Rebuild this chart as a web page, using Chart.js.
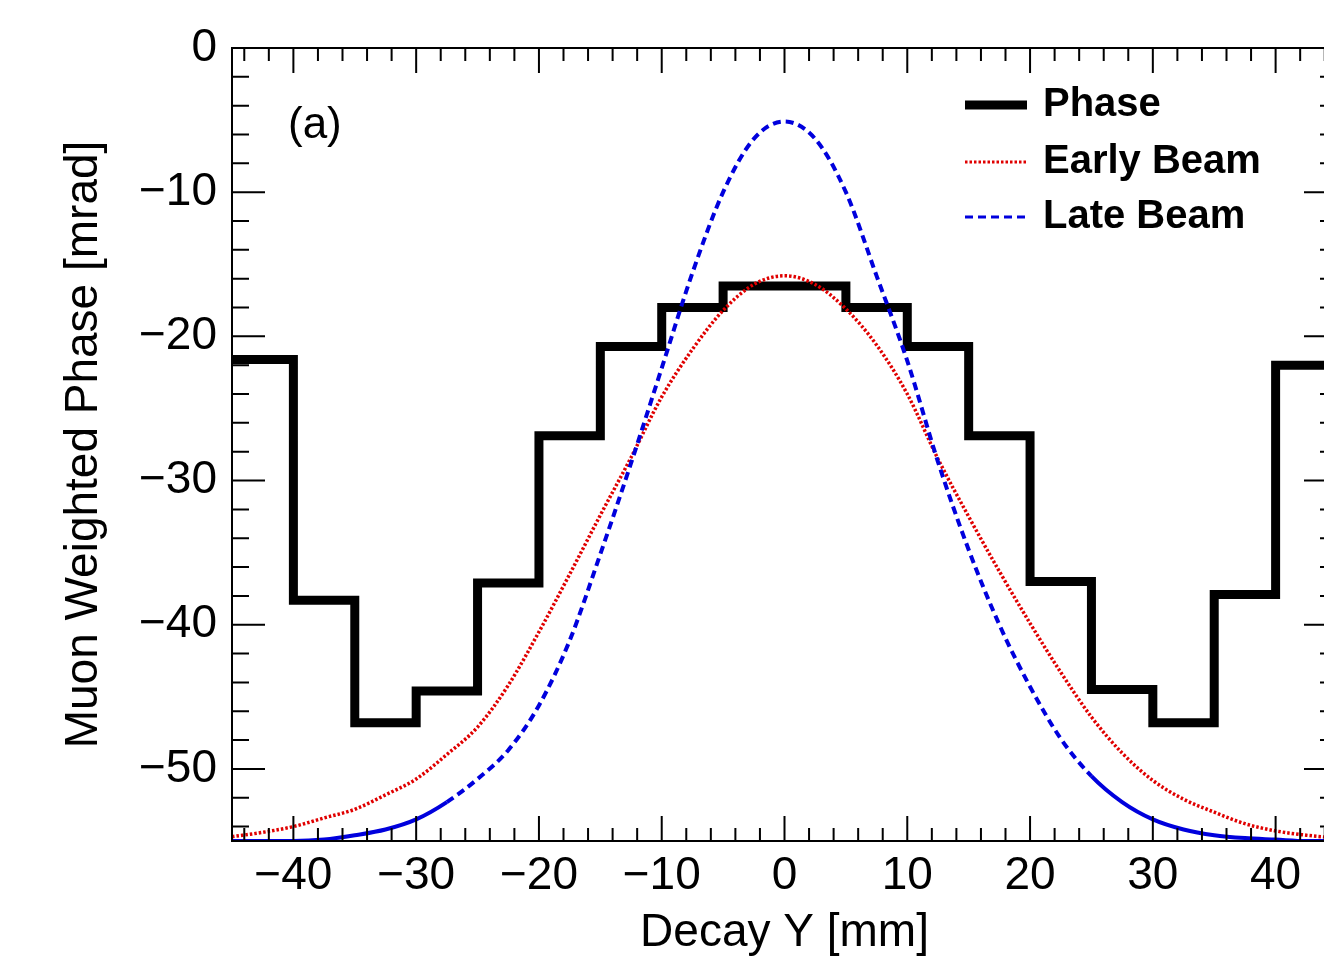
<!DOCTYPE html>
<html lang="en">
<head>
  <meta charset="UTF-8">
  <title>Muon Weighted Phase vs Decay Y</title>
  <script src="https://cdn.jsdelivr.net/npm/chart.js"></script>
  <style>
    body {
      margin: 0;
      background: #fff;
      overflow: hidden;
    }
    #wrap {
      width: 1340px;
      height: 961px;
    }
  </style>
</head>
<body>
  <div id="wrap">
    <canvas id="grafico" width="1340" height="961"></canvas>
  </div>

  <script>
    // histogram bins (edges in mm) and phase per bin (mrad)
    const binEdges = [-45, -40, -35, -30, -25, -20, -15, -10, -5, 0, 5, 10, 15, 20, 25, 30, 35, 40, 45];
    const phaseValues = [-21.6, -38.3, -46.8, -44.6, -37.1, -26.9, -20.7, -18.0, -16.5,
                         -16.5, -18.0, -20.7, -26.9, -37.0, -44.5, -46.8, -37.9, -22.0];

    // beam curves sampled along Decay Y
    const curveX = [-45, -42.5, -40, -37.5, -35, -32.5, -30, -27.5, -25, -22.5, -20, -17.5, -15, -12.5, -10, -7.5, -5, -2.5, 0,
                    2.5, 5, 7.5, 10, 12.5, 15, 17.5, 20, 22.5, 25, 27.5, 30, 32.5, 35, 37.5, 40, 42.5, 45];
    const earlyBeam = [-54.7, -54.4, -54.0, -53.4, -52.8, -51.8, -50.7, -49.0, -47.1, -44.2, -40.5, -36.5, -32.4, -28.4, -24.2, -20.9, -18.2, -16.4, -15.8,
                       -16.4, -18.1, -20.6, -24.0, -28.5, -32.5, -36.3, -39.9, -43.3, -46.4, -48.9, -50.8, -52.1, -53.0, -53.8, -54.3, -54.6, -54.8];
    const lateBeam = [-55.0, -55.0, -55.0, -54.9, -54.6, -54.2, -53.5, -52.3, -50.7, -48.7, -45.6, -41.1, -35.1, -28.8, -22.2, -15.6, -10.0, -6.3, -5.1,
                      -6.3, -10.0, -15.8, -21.7, -28.7, -34.8, -40.0, -44.3, -47.9, -50.5, -52.3, -53.5, -54.2, -54.6, -54.8, -54.9, -55.0, -55.0];

    const xTicks = [-40, -30, -20, -10, 0, 10, 20, 30, 40];
    const yTicks = [-50, -40, -30, -20, -10, 0];

    const phasePts = binEdges.map((x, i) => ({ x: x, y: phaseValues[Math.min(i, phaseValues.length - 1)] }));
    const earlyPts = curveX.map((x, i) => ({ x: x, y: earlyBeam[i] }));
    const latePts = curveX.map((x, i) => ({ x: x, y: lateBeam[i] }));

    const FONT = '"Liberation Sans", Arial, Helvetica, sans-serif';
    const minus = v => v < 0 ? '\u2212' + Math.abs(v) : String(v);

    // ROOT style frame with inward ticks, legend and panel tag
    const rootStyle = {
      id: 'rootStyle',
      afterDatasetsDraw(chart) {
        const c = chart.ctx;
        const a = chart.chartArea;
        const xs = chart.scales.x, ys = chart.scales.y;
        c.save();
        c.strokeStyle = '#000';
        c.lineWidth = 2;
        c.strokeRect(a.left, a.top, a.right - a.left, a.bottom - a.top);

        c.beginPath();
        for (let v = -44; v <= 44; v += 2) {
          const px = xs.getPixelForValue(v);
          const len = (v % 10 === 0) ? 25 : 13;
          c.moveTo(px, a.bottom); c.lineTo(px, a.bottom - len);
          c.moveTo(px, a.top); c.lineTo(px, a.top + len);
        }
        for (let v = -54; v <= 0; v += 2) {
          const py = ys.getPixelForValue(v);
          const len = (v % 10 === 0) ? 33 : 17;
          c.moveTo(a.left, py); c.lineTo(a.left + len, py);
          c.moveTo(a.right, py); c.lineTo(a.right - len, py);
        }
        c.stroke();

        // panel tag
        c.fillStyle = '#000';
        c.font = '44px ' + FONT;
        c.textBaseline = 'middle';
        c.textAlign = 'left';
        c.fillText('(a)', a.left + 56, a.top + 78);

        // legend
        const lx0 = a.left + 733, lx1 = a.left + 795, tx = a.left + 811;
        const rows = [a.top + 57, a.top + 114, a.top + 169];
        chart.data.datasets.forEach((ds, i) => {
          const y = rows[i];
          c.beginPath();
          c.strokeStyle = ds.borderColor;
          c.lineWidth = i === 0 ? 9 : 3;
          c.setLineDash(ds.borderDash || []);
          c.moveTo(lx0, y); c.lineTo(lx1, y);
          c.stroke();
          c.setLineDash([]);
          c.fillStyle = '#000';
          c.font = 'bold 40px ' + FONT;
          c.fillText(ds.label, tx, y);
        });
        c.restore();
      }
    };

    const ctx = document.getElementById('grafico').getContext('2d');
    new Chart(ctx, {
      type: 'line',
      data: {
        datasets: [
          {
            label: 'Phase',
            data: phasePts,
            borderColor: '#000',
            borderWidth: 9,
            stepped: 'before',
            pointRadius: 0,
            borderJoinStyle: 'miter',
            order: 3
          },
          {
            label: 'Early Beam',
            data: earlyPts,
            borderColor: '#e00000',
            borderWidth: 3.5,
            borderDash: [2.5, 2],
            cubicInterpolationMode: 'monotone',
            pointRadius: 0,
            order: 2
          },
          {
            label: 'Late Beam',
            data: latePts,
            borderColor: '#0000dd',
            borderWidth: 4,
            borderDash: [8, 5],
            cubicInterpolationMode: 'monotone',
            pointRadius: 0,
            order: 1,
            segment: {
              // tails of the late beam curve look solid in the original
              borderDash: s => (s.p1.parsed.x <= -27.5 || s.p0.parsed.x >= 25) ? [] : [8, 5]
            }
          }
        ]
      },
      options: {
        responsive: false,
        animation: false,
        layout: { padding: { top: 48, right: 3, left: 0, bottom: 0 } },
        plugins: {
          legend: { display: false },
          tooltip: { enabled: false }
        },
        scales: {
          x: {
            type: 'linear',
            min: -45,
            max: 45,
            afterFit: s => { s.height = 120; },
            afterBuildTicks: s => { s.ticks = xTicks.map(v => ({ value: v })); },
            grid: { display: false },
            border: { display: false },
            ticks: {
              color: '#000',
              font: { family: FONT, size: 46 },
              padding: 0,
              maxRotation: 0,
              autoSkip: false,
              callback: minus
            },
            title: {
              display: true,
              text: 'Decay Y [mm]',
              color: '#000',
              font: { family: FONT, size: 46 },
              padding: { top: 0, bottom: 0 }
            }
          },
          y: {
            min: -55,
            max: 0,
            afterFit: s => { s.width = 232; },
            afterBuildTicks: s => { s.ticks = yTicks.map(v => ({ value: v })); },
            grid: { display: false },
            border: { display: false },
            ticks: {
              color: '#000',
              font: { family: FONT, size: 46 },
              padding: 7,
              autoSkip: false,
              callback: minus
            },
            title: {
              display: true,
              text: 'Muon Weighted Phase [mrad]',
              color: '#000',
              font: { family: FONT, size: 46 },
              padding: { top: 57, bottom: 0 }
            }
          }
        }
      },
      plugins: [rootStyle]
    });
  </script>
</body>
</html>
